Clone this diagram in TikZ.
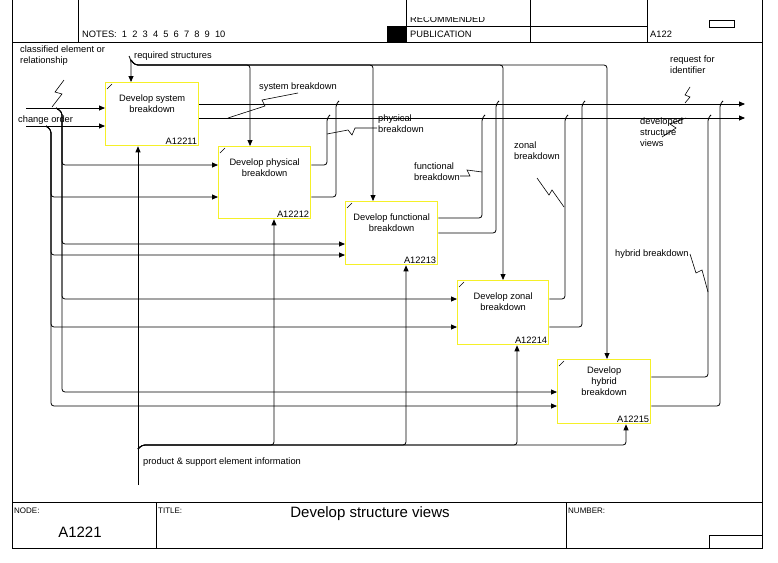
\documentclass[tikz,border=0pt]{standalone}
\usepackage{fontspec}
\setmainfont{Liberation Sans}
\usetikzlibrary{arrows.meta,calc}
\begin{document}
\begin{tikzpicture}[x=1pt,y=-1pt,
  font=\fontsize{9.3}{11}\selectfont,
  ln/.style={line width=0.8pt,rounded corners=3pt},
  ar/.style={ln,-{Triangle[length=6pt,width=5pt]}},
  box/.style={draw={rgb,255:red,245;green,240;blue,40},line width=1.3pt,anchor=north west,inner sep=0},
  lbl/.style={anchor=base west,inner sep=0,align=left},
  frame/.style={line width=0.8pt},
  sq/.style={line width=0.6pt}]
\useasboundingbox (0,0) rectangle (778,562);
% frame
\draw[frame] (12,0) -- (12,548) -- (762,548) -- (762,0);
\draw[frame] (12,42) -- (762,42);
\draw[frame] (78,0) -- (78,42);
\node[lbl] (rec) at (410,22) {RECOMMENDED};
\fill[white] (406,0) rectangle (530,17);
\fill (387,26) rectangle (406,42);
\draw[frame] (406,0) -- (406,42) (406,26) -- (647,26) (530,0) -- (530,42) (647,0) -- (647,42);
\draw[frame] (709,20) rectangle (734,27);
\node[lbl] (notes) at (82,37) {NOTES:\ \ 1\ \ 2\ \ 3\ \ 4\ \ 5\ \ 6\ \ 7\ \ 8\ \ 9\ \ 10};
\node[lbl] (pub) at (410,37) {PUBLICATION};
\node[lbl] (a122) at (650,37) {A122};
\draw[frame] (12,502) -- (762,502) (156,502) -- (156,548) (566,502) -- (566,548);
\draw[frame] (709,548) -- (709,535) -- (762,535);
\node[lbl,font=\fontsize{8}{9}\selectfont] (nd) at (14,513) {NODE:};
\node[lbl,font=\fontsize{8}{9}\selectfont] (tt) at (158,513) {TITLE:};
\node[lbl,font=\fontsize{8}{9}\selectfont] (nb) at (568,513) {NUMBER:};
\node[font=\fontsize{15}{17}\selectfont] (nodeid) at (80,532) {A1221};
\node[font=\fontsize{15}{17}\selectfont] (title) at (370,514) {Develop structure views};
% boxes
\node[box,minimum width=93,minimum height=63] (b1) at (105,82) {};
\node[box,minimum width=92,minimum height=72] (b2) at (218,146) {};
\node[box,minimum width=92,minimum height=63] (b3) at (345,201) {};
\node[box,minimum width=91,minimum height=64] (b4) at (457,280) {};
\node[box,minimum width=93,minimum height=64] (b5) at (557,359) {};
\foreach \b/\t/\n in {b1/{Develop system\\breakdown}/A12211,b2/{Develop physical\\breakdown}/A12212,b3/{Develop functional\\breakdown}/A12213,b4/{Develop zonal\\breakdown}/A12214}{
  \node[align=center,anchor=north,inner sep=0] (\b t) at ($(\b.north)+(0,13)$) {\t};
  \node[anchor=south east,inner sep=2pt] (\b n) at (\b.south east) {\n};
  \draw[sq] ($(\b.north west)+(2,7)$) -- ($(\b.north west)+(7,2)$);
}
\node[align=center,anchor=north,inner sep=0] (b5t) at ($(b5.north)+(0,8)$) {Develop\\hybrid\\breakdown};
\node[anchor=south east,inner sep=2pt] (b5n) at (b5.south east) {A12215};
\draw[sq] ($(b5.north west)+(2,7)$) -- ($(b5.north west)+(7,2)$);
% inputs
\coordinate (i1) at (26,108);
\coordinate (i2) at (26,126);
\draw[ar] (i1) -- (b1.west |- 0,108);
\draw[ar] (i2) -- (b1.west |- 0,126);
\foreach \y/\b in {165/b2,244/b3,299/b4,392/b5}{
  \draw[ar] (56,108) -- (62,112) -- (62,\y) -- (\b.west |- 0,\y);}
\foreach \y/\b in {197/b2,255/b3,327/b4,406/b5}{
  \draw[ar] (46,126) -- (51,130) -- (51,\y) -- (\b.west |- 0,\y);}
% controls
\coordinate (c0) at (129,56);
\draw[ar] (c0) -- (131,60) -- (b1.north -| 131,0);
\foreach \x/\b in {250/b2,373/b3,503/b4,607/b5}{
  \draw[ar] (131,60) -- (135,65) -- (\x,65) -- (\b.north -| \x,0);}
% outputs
\coordinate (o1) at (745,104);
\coordinate (o2) at (745,118);
\draw[ar] (b1.east |- 0,104) -- (o1);
\draw[ar] (b1.east |- 0,118) -- (o2);
\foreach \y/\x/\t/\b in {165/327/118/b2,197/336/104/b2,218/482/118/b3,233/496/104/b3,299/565/118/b4,327/582/104/b4,377/708/118/b5,406/720/104/b5}{
  \draw[ln] (\b.east |- 0,\y) -- (\x,\y) -- (\x,\t) -- ++(3,-3);}
% mechanisms
\coordinate (m0) at (138,485);
\draw[ar] (m0) -- (b1.south -| 138,0);
\foreach \x/\b in {274/b2,406/b3,517/b4,626/b5}{
  \draw[ar] (138,449) -- (142,445) -- (\x,445) -- (\b.south -| \x,0);}
% labels
\node[lbl] (lcl) at (20,63) {classified element or\\relationship};
\node[lbl] (lco) at (18,122) {change order};
\node[lbl] (lrs) at (134,58) {required structures};
\node[lbl] (lsb) at (259,89) {system breakdown};
\node[lbl] (lpb) at (378,132) {physical\\breakdown};
\node[lbl] (lfb) at (414,180) {functional\\breakdown};
\node[lbl] (lzb) at (514,159) {zonal\\breakdown};
\node[lbl] (lrf) at (670,73) {request for\\identifier};
\node[lbl] (ldv) at (640,146) {developed\\structure\\views};
\node[lbl] (lhb) at (615,256) {hybrid breakdown};
\node[lbl] (lps) at (143,464) {product \& support element information};
% squiggles
\draw[sq] (64,80) -- (55,92) -- (62,94) -- (52,107);
\draw[sq] (298,93) -- (262,100) -- (265,106) -- (228,118);
\draw[sq] (377,128) -- (355,128) -- (352,135) -- (348,130) -- (327,134);
\draw[sq] (460,176) -- (470,176) -- (467,170) -- (482,172);
\draw[sq] (537,178) -- (549,195) -- (552,190) -- (564,207);
\draw[sq] (690,87) -- (685,95) -- (690,97) -- (685,103);
\draw[sq] (662,137) -- (676,128) -- (670,124) -- (686,118);
\draw[sq] (690,254) -- (696,273) -- (702,270) -- (708,292);
\end{tikzpicture}
\end{document}
